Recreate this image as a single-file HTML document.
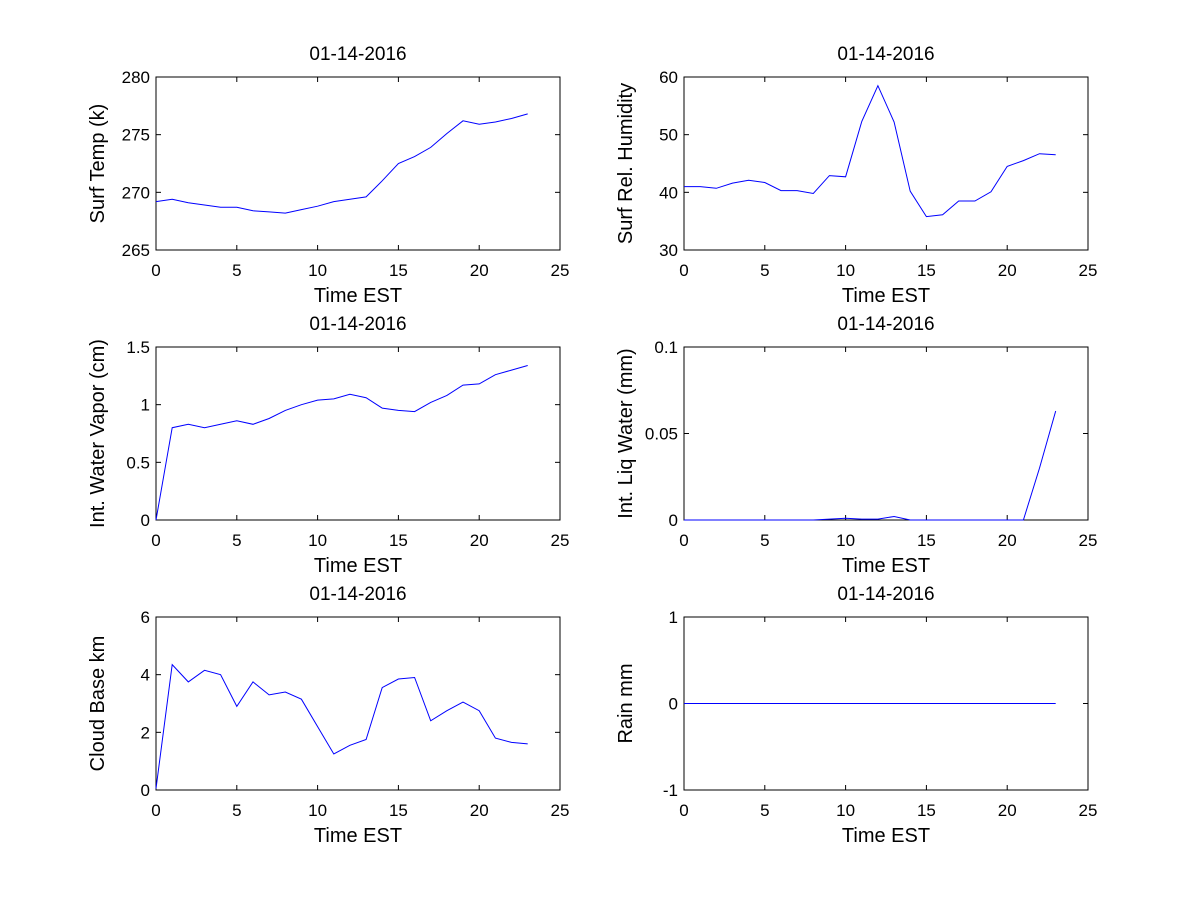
<!DOCTYPE html>
<html><head><meta charset="utf-8"><style>
body{margin:0;background:#fff;}
svg{display:block;font-family:"Liberation Sans",Arial,sans-serif;}
</style></head><body>
<svg id="fig" width="1200" height="900"></svg>
<script>
const hours = [0,1,2,3,4,5,6,7,8,9,10,11,12,13,14,15,16,17,18,19,20,21,22,23];
const surfTemp = [269.2,269.4,269.1,268.9,268.7,268.7,268.4,268.3,268.2,268.5,268.8,269.2,269.4,269.6,271.0,272.5,273.1,273.9,275.1,276.2,275.9,276.1,276.4,276.8];
const relHum = [41,41,40.7,41.6,42.1,41.7,40.3,40.3,39.8,42.9,42.7,52.3,58.5,52.2,40.2,35.8,36.1,38.5,38.5,40.1,44.5,45.5,46.7,46.5];
const waterVapor = [0,0.8,0.83,0.8,0.83,0.86,0.83,0.88,0.95,1.0,1.04,1.05,1.09,1.06,0.97,0.95,0.94,1.02,1.08,1.17,1.18,1.26,1.30,1.34];
const liqWater = [0,0,0,0,0,0,0,0,0,0.0005,0.001,0.0005,0.0005,0.002,0,0,0,0,0,0,0,0,0.03,0.063];
const cloudBase = [0.05,4.35,3.75,4.15,4.0,2.9,3.75,3.3,3.4,3.15,2.2,1.25,1.55,1.75,3.55,3.85,3.9,2.4,2.75,3.05,2.75,1.8,1.65,1.6];
const rain = [0,0,0,0,0,0,0,0,0,0,0,0,0,0,0,0,0,0,0,0,0,0,0,0];
const xTicks = [0,5,10,15,20,25];
const panels = [
 {name:'surf-temp',x:156,y:77,ys:surfTemp,yMin:265,yMax:280,yTicks:[265,270,275,280],yl:['265','270','275','280'],label:'Surf Temp (k)'},
 {name:'rel-humidity',x:684,y:77,ys:relHum,yMin:30,yMax:60,yTicks:[30,40,50,60],yl:['30','40','50','60'],label:'Surf Rel. Humidity'},
 {name:'water-vapor',x:156,y:347,ys:waterVapor,yMin:0,yMax:1.5,yTicks:[0,0.5,1,1.5],yl:['0','0.5','1','1.5'],label:'Int. Water Vapor (cm)'},
 {name:'liq-water',x:684,y:347,ys:liqWater,yMin:0,yMax:0.1,yTicks:[0,0.05,0.1],yl:['0','0.05','0.1'],label:'Int. Liq Water (mm)'},
 {name:'cloud-base',x:156,y:617,ys:cloudBase,yMin:0,yMax:6,yTicks:[0,2,4,6],yl:['0','2','4','6'],label:'Cloud Base km'},
 {name:'rain',x:684,y:617,ys:rain,yMin:-1,yMax:1,yTicks:[-1,0,1],yl:['-1','0','1'],label:'Rain mm'}
];
const NS='http://www.w3.org/2000/svg';
const svg=document.getElementById('fig');
function mk(tag,attrs,parent,text){const e=document.createElementNS(NS,tag);for(const k in attrs)e.setAttribute(k,attrs[k]);if(text!==undefined)e.textContent=text;parent.appendChild(e);return e;}
const W=404,H=173;
panels.forEach(p=>{
 const g=mk('g',{},svg);
 
 
 const sx=v=>p.x+v/25*W;
 const sy=v=>p.y+H-(v-p.yMin)/(p.yMax-p.yMin)*H;
 const r=mk('rect',{x:p.x,y:p.y,width:W,height:H,fill:'#fff',stroke:'#000','stroke-width':1},g);
 
 
 xTicks.forEach(t=>{
  const X=sx(t);
  mk('line',{x1:X,x2:X,y1:p.y+H,y2:p.y+H-5,stroke:'#000'},g);
  mk('line',{x1:X,x2:X,y1:p.y,y2:p.y+5,stroke:'#000'},g);
  const tl=mk('text',{x:X,y:p.y+H+26,'text-anchor':'middle','font-size':17},g,String(t));
  
  
 });
 p.yTicks.forEach((t,i)=>{
  const Y=sy(t);
  mk('line',{x1:p.x,x2:p.x+5,y1:Y,y2:Y,stroke:'#000'},g);
  mk('line',{x1:p.x+W,x2:p.x+W-5,y1:Y,y2:Y,stroke:'#000'},g);
  const tl=mk('text',{x:p.x-6,y:Y+6,'text-anchor':'end','font-size':17},g,p.yl[i]);
  
  
 });
 const pts=hours.map((h,i)=>sx(h).toFixed(1)+','+sy(p.ys[i]).toFixed(1)).join(' ');
 const ln=mk('polyline',{points:pts,fill:'none',stroke:'#0000ff','stroke-width':1},g);
 
 
 const t=mk('text',{x:p.x+W/2,y:p.y-17,'text-anchor':'middle','font-size':19},g,'01-14-2016');
 
 
 const xl=mk('text',{x:p.x+W/2,y:p.y+H+52,'text-anchor':'middle','font-size':20},g,'Time EST');
 
 
 const cx=p.x-52,cy=p.y+H/2;
 const yl=mk('text',{x:cx,y:cy,'text-anchor':'middle','font-size':20,transform:'rotate(-90 '+cx+' '+cy+')'},g,p.label);
 
 
});
</script>
</body></html>
